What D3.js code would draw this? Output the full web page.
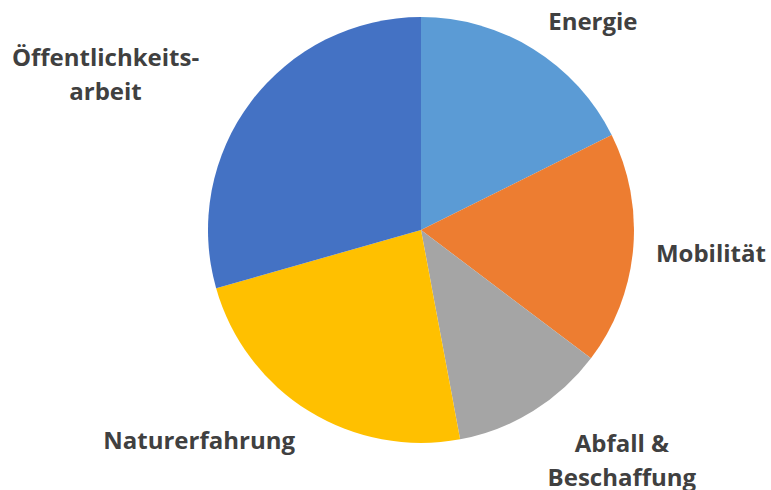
<!DOCTYPE html>
<html><head><meta charset="utf-8">
<script src="https://cdn.jsdelivr.net/npm/d3@7"></script>
<style>body{margin:0;background:#fff}svg{display:block}</style>
</head><body>
<svg id="chart" width="771" height="490"></svg>
<script>
const categories = ["Energie", "Mobilität", "Abfall & Beschaffung", "Naturerfahrung", "Öffentlichkeitsarbeit"];
const values = [6, 6, 4, 8, 10];
const colors = ["#5B9BD5", "#ED7D31", "#A5A5A5", "#FFC000", "#4472C4"];
const labelLines = [["Energie"], ["Mobilität"], ["Abfall &", "Beschaffung"], ["Naturerfahrung"], ["Öffentlichkeits-", "arbeit"]];
// label nudges (layout only)
const labelNudge = [[35, 13], [31, 0], [64, 10], [-85, -10], [-108, 1]];

const svg = d3.select("#chart");
const cx = 421, cy = 230, R = 213, LR = 260, lineH = 34;
const g = svg.append("g").attr("transform", `translate(${cx},${cy})`);
const data = categories.map((c, i) => ({c, v: values[i], i}));
const pie = d3.pie().sort(null).value(d => d.v);
const arcs = pie(data);
const arc = d3.arc().innerRadius(0).outerRadius(R);
g.selectAll("path").data(arcs).join("path")
  .attr("d", arc).attr("fill", d => colors[d.data.i]);

arcs.forEach(d => {
  const m = (d.startAngle + d.endAngle) / 2;
  const x = Math.sin(m) * LR + labelNudge[d.data.i][0];
  const y = -Math.cos(m) * LR + labelNudge[d.data.i][1];
  const lines = labelLines[d.data.i];
  const t = g.append("text").attr("text-anchor", "middle")
    .attr("font-family", "'Open Sans', sans-serif").attr("font-weight", "bold")
    .attr("font-size", 24).attr("fill", "#404040");
  lines.forEach((s, k) => {
    t.append("tspan").attr("x", x)
      .attr("y", y + (k - (lines.length - 1) / 2) * lineH)
      .attr("dy", "0.35em").text(s);
  });
});
</script>
</body></html>
